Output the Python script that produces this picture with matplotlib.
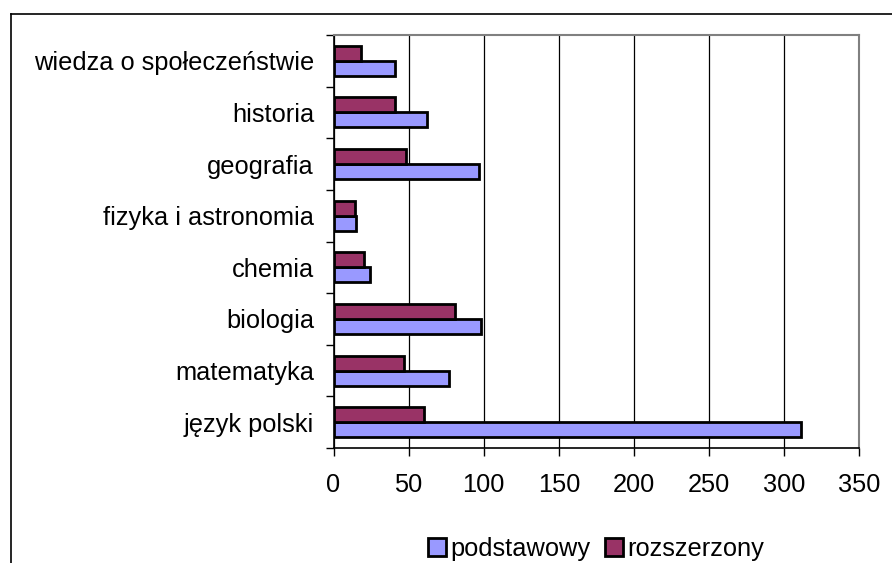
#!/usr/bin/env python3
"""
Horizontal grouped bar chart: number of students per exam subject,
basic (podstawowy) vs extended (rozszerzony) level.
"""
import numpy as np
import matplotlib.pyplot as plt
from matplotlib.lines import Line2D

subjects = ['język polski', 'matematyka', 'biologia', 'chemia',
            'fizyka i astronomia', 'geografia', 'historia',
            'wiedza o społeczeństwie']
podstawowy = [311, 77, 98, 24, 15, 97, 62, 41]
rozszerzony = [60, 47, 81, 20, 14, 48, 41, 18]
x_ticks = [0, 50, 100, 150, 200, 250, 300, 350]


def main():
    plt.rcParams['font.family'] = ['Liberation Sans', 'DejaVu Sans']
    fig = plt.figure(figsize=(8.92, 5.63), dpi=100)
    ax = fig.add_axes([333.5 / 892, 1 - 448 / 563, (859.3 - 333.5) / 892, (448 - 35) / 563])

    y = np.arange(len(subjects))
    h = 0.29
    ax.barh(y - h / 2, podstawowy, height=h, color='#9999FF', edgecolor='black',
            linewidth=2.0, label='podstawowy', zorder=3)
    ax.barh(y + h / 2, rozszerzony, height=h, color='#993366', edgecolor='black',
            linewidth=2.0, label='rozszerzony', zorder=3)

    fs = 18.3
    ax.set_xlim(0, 350)
    ax.set_ylim(-0.5, len(subjects) - 0.5)
    ax.set_xticks(x_ticks)
    ax.set_xticklabels([str(v) for v in x_ticks], fontsize=fs)
    ax.set_yticks(y)
    ax.set_yticklabels(subjects, fontsize=fs)
    ax.set_yticks(np.arange(len(subjects) + 1) - 0.5, minor=True)
    ax.tick_params(axis='y', which='major', length=0, pad=14)
    ax.tick_params(axis='y', which='minor', length=6, width=1, direction='out')
    ax.tick_params(axis='x', length=6, width=1, direction='out', pad=12)
    ax.grid(axis='x', color='black', linewidth=0.9, zorder=0)

    for side in ['top', 'right']:
        ax.spines[side].set_color('#808080')
        ax.spines[side].set_linewidth(1.5)
    for side in ['left', 'bottom']:
        ax.spines[side].set_color('black')
        ax.spines[side].set_linewidth(1.2)

    # outer chart frame (cut by the image edges)
    fig.add_artist(Line2D([11 / 892, 1.0], [1 - 14 / 563] * 2, color='black', linewidth=1.2))
    fig.add_artist(Line2D([11 / 892] * 2, [0.0, 1 - 14 / 563], color='black', linewidth=1.2))

    fig.legend(loc='center', bbox_to_anchor=(596 / 892, 1 - 549 / 563), ncol=2,
               frameon=False, fontsize=fs, handlelength=0.7, handleheight=0.7,
               handletextpad=0.15, columnspacing=0.6, borderaxespad=0)

    fig.savefig('out.png', dpi=100)


if __name__ == '__main__':
    main()
